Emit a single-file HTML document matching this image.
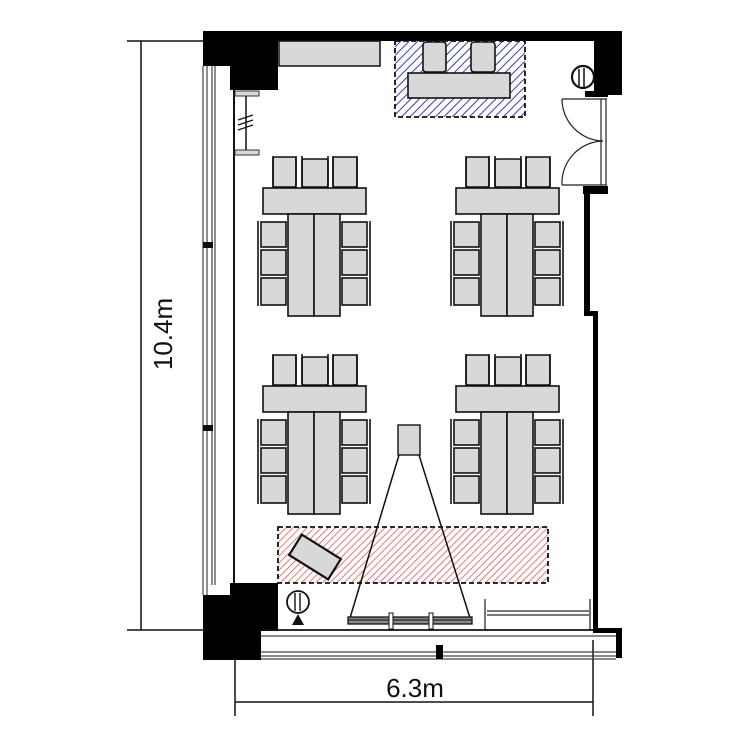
<!DOCTYPE html>
<html><head><meta charset="utf-8"><style>
html,body{margin:0;padding:0;background:#fff;}
svg{display:block;}
</style></head><body>
<svg width="750" height="750" viewBox="0 0 750 750" xmlns="http://www.w3.org/2000/svg">
<defs>
<pattern id="hb" width="6" height="6" patternUnits="userSpaceOnUse" patternTransform="rotate(45)">
<rect width="6" height="6" fill="#fff"/><line x1="0" y1="0" x2="0" y2="6" stroke="#3c3cc0" stroke-width="2"/></pattern>
<pattern id="hr" width="5" height="5" patternUnits="userSpaceOnUse" patternTransform="rotate(45)">
<rect width="5" height="5" fill="#fff"/><line x1="0" y1="0" x2="0" y2="5" stroke="#e04040" stroke-width="1.4"/></pattern>
<g id="grp" stroke="#111" stroke-width="1.6" fill="#d8d8d8">
  <rect x="273" y="157" width="23" height="30" rx="2"/>
  <rect x="302" y="159" width="26" height="28" rx="2"/>
  <rect x="333" y="157" width="24" height="30" rx="2"/>
  <line x1="273" y1="156" x2="273" y2="188"/><line x1="296" y1="156" x2="296" y2="188"/>
  <line x1="302" y1="156" x2="302" y2="188"/><line x1="328" y1="156" x2="328" y2="188"/>
  <line x1="333" y1="156" x2="333" y2="188"/><line x1="357" y1="156" x2="357" y2="188"/>
  <rect x="263" y="188" width="103" height="26"/>
  <rect x="288" y="214" width="26" height="102"/>
  <rect x="314" y="214" width="26" height="102"/>
  <rect x="261" y="222" width="25" height="25"/><rect x="261" y="250" width="25" height="25"/><rect x="261" y="278" width="25" height="27"/>
  <rect x="342" y="222" width="25" height="25"/><rect x="342" y="250" width="25" height="25"/><rect x="342" y="278" width="25" height="27"/>
  <line x1="258" y1="221" x2="258" y2="306"/><line x1="370" y1="221" x2="370" y2="306"/>
</g>
</defs>

<g stroke="#111" stroke-width="1.5">
<line x1="127" y1="41" x2="203" y2="41"/>
<line x1="141" y1="41" x2="141" y2="630"/>
<line x1="127" y1="630" x2="203" y2="630"/>
<line x1="235" y1="655" x2="235" y2="716"/>
<line x1="593" y1="640" x2="593" y2="716"/>
<line x1="235" y1="702" x2="593" y2="702"/>
</g>
<text x="0" y="0" transform="translate(172,334) rotate(-90)" text-anchor="middle" font-family="Liberation Sans, sans-serif" font-size="26" fill="#111">10.4m</text>
<text x="415" y="697" text-anchor="middle" font-family="Liberation Sans, sans-serif" font-size="26" fill="#111">6.3m</text>

<g stroke="#444" stroke-width="1.2" fill="none">
<line x1="203" y1="66" x2="203" y2="595"/>
<line x1="207" y1="66" x2="207" y2="595"/>
<line x1="212" y1="66" x2="212" y2="585"/>
<line x1="215" y1="66" x2="215" y2="585"/>
</g>
<line x1="234" y1="66" x2="234" y2="583" stroke="#111" stroke-width="2"/>
<rect x="203" y="242" width="10" height="6" fill="#111"/>
<rect x="203" y="425" width="10" height="6" fill="#111"/>

<rect x="203" y="31" width="419" height="10" fill="#000"/>
<rect x="203" y="31" width="75" height="35" fill="#000"/>
<rect x="230" y="31" width="48" height="59" fill="#000"/>
<rect x="594" y="31" width="28" height="64" fill="#000"/>
<rect x="585" y="91" width="23" height="6" fill="#000"/>
<rect x="279" y="41" width="101" height="25" fill="#d8d8d8" stroke="#111" stroke-width="1.5"/>
<rect x="235" y="91" width="24" height="5" fill="#d8d8d8" stroke="#333" stroke-width="1"/>
<rect x="235" y="150" width="24" height="5" fill="#d8d8d8" stroke="#333" stroke-width="1"/>
<line x1="246" y1="96" x2="246" y2="150" stroke="#111" stroke-width="1.5"/>
<g stroke="#111" stroke-width="1.2"><line x1="238" y1="120" x2="253" y2="115"/><line x1="238" y1="125" x2="253" y2="120"/><line x1="238" y1="130" x2="253" y2="125"/></g>

<rect x="395" y="41" width="130" height="76" fill="url(#hb)" stroke="#111" stroke-width="1.8" stroke-dasharray="5,3"/>
<g stroke="#111" stroke-width="1.6" fill="#d8d8d8">
<rect x="423" y="42" width="23" height="30" rx="3"/>
<rect x="471" y="42" width="24" height="30" rx="3"/>
<rect x="408" y="73" width="102" height="25"/>
</g>

<circle cx="583" cy="77" r="11" fill="#fff" stroke="#111" stroke-width="2.2"/>
<g stroke="#111" stroke-width="1.5"><line x1="579" y1="69" x2="579" y2="86"/><line x1="584" y1="68" x2="584" y2="87"/></g>
<g stroke="#222" stroke-width="1.2" fill="none">
<line x1="562" y1="99" x2="607" y2="99"/>
<line x1="562" y1="185" x2="607" y2="185"/>
<line x1="601" y1="99" x2="601" y2="185"/>
<line x1="606" y1="99" x2="606" y2="185"/>
<path d="M562 99 A42 42 0 0 0 603 141"/>
<path d="M562 185 A42 42 0 0 1 603 141"/>
</g>
<rect x="583" y="186" width="25" height="8" fill="#000"/>
<rect x="584" y="186" width="6" height="130" fill="#000"/>
<rect x="584" y="311" width="14" height="5" fill="#000"/>
<rect x="593" y="311" width="5" height="320" fill="#000"/>

<use href="#grp"/>
<use href="#grp" transform="translate(193,0)"/>
<use href="#grp" transform="translate(0,198)"/>
<use href="#grp" transform="translate(193,198)"/>

<rect x="278" y="527" width="270" height="56" fill="url(#hr)" stroke="#111" stroke-width="1.8" stroke-dasharray="5,3"/>
<rect x="-23" y="-12" width="46" height="24" fill="#d8d8d8" stroke="#111" stroke-width="2.2" transform="translate(315,557) rotate(32)"/>

<rect x="398" y="425" width="22" height="30" fill="#d8d8d8" stroke="#111" stroke-width="1.4"/>
<g stroke="#111" stroke-width="1.5"><line x1="399" y1="455" x2="350" y2="618"/><line x1="419" y1="455" x2="470" y2="618"/></g>
<rect x="348" y="617" width="124" height="7" fill="#888" stroke="#111" stroke-width="1.3"/>
<line x1="348" y1="620" x2="472" y2="620" stroke="#111" stroke-width="1"/>
<rect x="389" y="613" width="4" height="16" fill="#fff" stroke="#111" stroke-width="1"/>
<rect x="429" y="613" width="4" height="16" fill="#fff" stroke="#111" stroke-width="1"/>

<g stroke="#666" stroke-width="1.8"><line x1="485" y1="599" x2="485" y2="630"/><line x1="590" y1="599" x2="590" y2="630"/><line x1="487" y1="611" x2="589" y2="611"/><line x1="487" y1="615" x2="589" y2="615"/></g>

<circle cx="298" cy="602" r="11" fill="#fff" stroke="#111" stroke-width="1.8"/>
<g stroke="#111" stroke-width="1.4"><line x1="295" y1="593" x2="295" y2="611"/><line x1="300" y1="593" x2="300" y2="611"/></g>
<polygon points="298,614 292,625 304,625" fill="#111"/>

<rect x="230" y="583" width="48" height="48" fill="#000"/>
<rect x="203" y="595" width="58" height="65" fill="#000"/>
<line x1="260" y1="630" x2="595" y2="630" stroke="#111" stroke-width="1.8"/>
<rect x="593" y="628" width="29" height="5" fill="#000"/>
<rect x="616" y="630" width="6" height="28" fill="#000"/>
<g stroke="#444" stroke-width="1.2"><line x1="261" y1="636" x2="616" y2="636"/><line x1="261" y1="652" x2="616" y2="652"/><line x1="261" y1="656" x2="616" y2="656"/><line x1="261" y1="659" x2="616" y2="659"/></g>
<rect x="436" y="645" width="7" height="14" fill="#000"/>
</svg>
</body></html>
